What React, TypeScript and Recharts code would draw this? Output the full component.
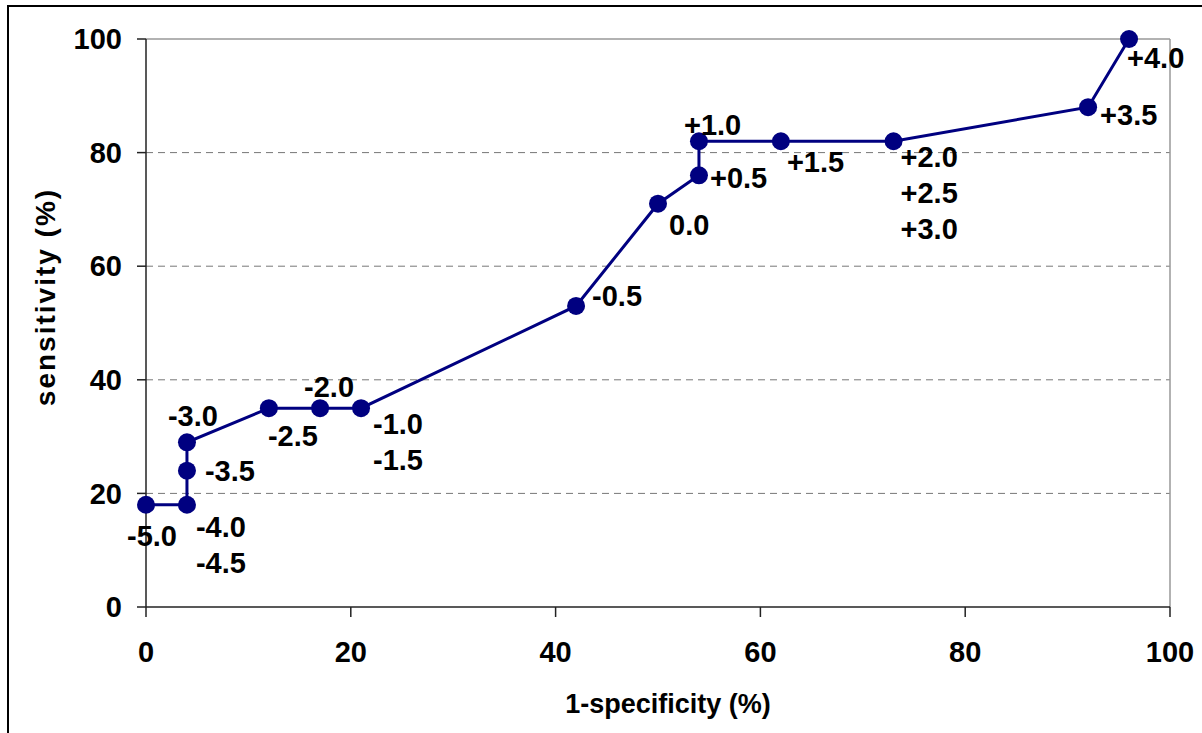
import React from 'react';
import { ScatterChart, Scatter, XAxis, YAxis, CartesianGrid, ReferenceLine, Label } from 'recharts';

const specificity = [0, 4, 4, 4, 12, 17, 21, 42, 50, 54, 54, 62, 73, 92, 96];
const sensitivity = [18, 18, 24, 29, 35, 35, 35, 53, 71, 76, 82, 82, 82, 88, 100];
const cutoffLabels = [
  ['-5.0'], ['-4.0', '-4.5'], ['-3.5'], ['-3.0'], ['-2.5'], ['-2.0'], ['-1.0', '-1.5'],
  ['-0.5'], ['0.0'], ['+0.5'], ['+1.0'], ['+1.5'], ['+2.0', '+2.5', '+3.0'], ['+3.5'], ['+4.0'],
];
const xTicks = [0, 20, 40, 60, 80, 100];
const yTicks = [0, 20, 40, 60, 80, 100];
const xTitle = '1-specificity (%)';
const yTitle = 'sensitivity (%)';

// label placement (style) offsets relative to each marker: [dx to text start, dy to text centre]
const labelOffsets: [number, number][] = [
  [-19, 31], [9, 22], [18, 0], [-19, -27], [-1, 27], [-16, -22], [12, 15],
  [16, -10], [11, 21], [11, 2], [-15, -17], [6, 20], [7, 15], [12, 7], [-2, 19],
];

const points = specificity.map((x, i) => ({ x, y: sensitivity[i], i }));

const FONT = '"Liberation Sans", Arial, sans-serif';
const NAVY = '#000080';

const PointShape = (props: any) => {
  const { cx, cy, payload } = props;
  const i = payload.i;
  const [dx, dy] = labelOffsets[i];
  const lines = cutoffLabels[i];
  return (
    <g>
      <circle cx={cx} cy={cy} r={9} fill={NAVY} />
      <text
        x={cx + dx}
        y={cy + dy}
        textAnchor="start"
        fontFamily={FONT}
        fontWeight="bold"
        fontSize={29}
        fill="#000"
      >
        {lines.map((t, k) => (
          <tspan key={k} x={cx + dx} dy={k === 0 ? '0.36em' : 36}>
            {t}
          </tspan>
        ))}
      </text>
    </g>
  );
};

const tickStyle = { fontFamily: FONT, fontWeight: 'bold', fontSize: 29, fill: '#000' } as any;

export default function App() {
  return (
    <div style={{ position: 'fixed', left: 0, top: 0, width: 1202, height: 733, overflow: 'hidden', background: '#fff' }}>
      <div style={{ position: 'absolute', left: 7, top: 5, width: 1400, height: 1000, border: '2px solid #000' }} />
      <div style={{ position: 'absolute', left: 0, top: 0 }}>
        <ScatterChart width={1202} height={733} margin={{ top: 39, right: 32, bottom: 0, left: 0 }}>
          <CartesianGrid
            horizontal={true}
            vertical={false}
            stroke="#777"
            strokeDasharray="7 5"
            horizontalValues={[20, 40, 60, 80]}
          />
          <ReferenceLine y={100} stroke="#999" strokeWidth={1.5} />
          <ReferenceLine x={100} stroke="#999" strokeWidth={1.5} />
          <XAxis
            type="number"
            dataKey="x"
            domain={[0, 100]}
            ticks={xTicks}
            interval={0}
            height={126}
            tickSize={10}
            tickMargin={24}
            tick={tickStyle}
            stroke="#222"
            strokeWidth={1.5}
          >
            <Label
              content={(p: any) => {
                const vb = p.viewBox || {};
                return (
                  <text
                    x={vb.x + vb.width / 2 + 10}
                    y={704}
                    textAnchor="middle"
                    dominantBaseline="central"
                    fontFamily={FONT}
                    fontWeight="bold"
                    fontSize={27}
                    fill="#000"
                  >
                    {xTitle}
                  </text>
                );
              }}
            />
          </XAxis>
          <YAxis
            type="number"
            dataKey="y"
            domain={[0, 100]}
            ticks={yTicks}
            interval={0}
            width={146}
            tickSize={9}
            tickMargin={15}
            tick={tickStyle}
            stroke="#222"
            strokeWidth={1.5}
          >
            <Label
              content={() => (
                <text
                  x={45}
                  y={297}
                  transform="rotate(-90 45 297)"
                  textAnchor="middle"
                  dominantBaseline="central"
                  fontFamily={FONT}
                  fontWeight="bold"
                  fontSize={28}
                  letterSpacing={2}
                  fill="#000"
                >
                  {yTitle}
                </text>
              )}
            />
          </YAxis>
          <Scatter
            data={points}
            fill={NAVY}
            line={{ stroke: NAVY, strokeWidth: 3 }}
            lineType="joint"
            shape={PointShape}
            isAnimationActive={false}
          />
        </ScatterChart>
      </div>
    </div>
  );
}
